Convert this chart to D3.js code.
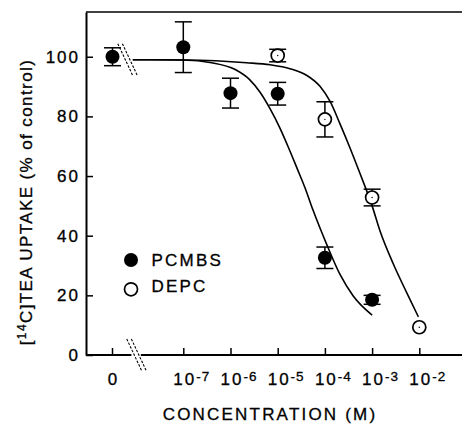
<!DOCTYPE html>
<html>
<head>
<meta charset="utf-8">
<script src="https://cdn.jsdelivr.net/npm/d3@7"></script>
<style>
  body { margin: 0; background: #fff; }
  svg text { font-family: "Liberation Sans", Arial, sans-serif; fill: #000; stroke: #000; stroke-width: 0.3px; }
</style>
</head>
<body>
<div id="graph1"></div>
<script>
// data (concentration in M, uptake in % of control)
let pcmbsConc = [0, 1e-7, 1e-6, 1e-5, 1e-4, 1e-3];
let pcmbsMean = [100, 103.2, 87.8, 87.6, 32.6, 18.5];
let pcmbsErr = [3, 8.5, 5, 3.8, 3.6, 1.5];

let depcConc = [1e-5, 1e-4, 1e-3, 1e-2];
let depcMean = [100.4, 79, 52.8, 9.3];
let depcErr = [2.1, 5.9, 2.8, 0];

// fitted curves: [log10 concentration, % of control]
let pcmbsCurve = [[-8.07, 99], [-7.0, 98.9], [-6.4, 98], [-5.9, 95.7], [-5.6, 92.4],
    [-5.37, 88], [-5.16, 82.5], [-4.95, 76], [-4.77, 69.5], [-4.6, 63], [-4.42, 56],
    [-4.25, 48.5], [-3.96, 37], [-3.68, 27], [-3.4, 19.8], [-3.0, 13.4]];
let depcCurve = [[-8.07, 99], [-7.0, 98.9], [-5.66, 98], [-5.16, 97.3], [-4.74, 96],
    [-4.39, 93.8], [-4.1, 90], [-3.89, 85], [-3.68, 77.5], [-3.47, 69.5], [-3.26, 61],
    [-3.0, 50], [-2.83, 41.5], [-2.55, 30.5], [-2.27, 21], [-2.02, 12.8]];

let xTicks = [1e-7, 1e-6, 1e-5, 1e-4, 1e-3, 1e-2];
let xTickExp = ["-7", "-6", "-5", "-4", "-3", "-2"];
let yTicks = [0, 20, 40, 60, 80, 100];

(function () {
    let width = 462, height = 425;
    let margin = {top: 12, right: 0, bottom: 70, left: 86};
    let innerW = width - margin.left - margin.right,
        innerH = height - margin.top - margin.bottom;

    let svg = d3.select("#graph1")
        .append("svg")
        .attr("width", width)
        .attr("height", height)
        .append("g")
        .attr("transform", `translate(${margin.left}, ${margin.top})`);

    // log x scale, the "0" control sits left of the break
    let x = d3.scaleLog()
        .domain([1e-7, 1e-2])
        .range([97.3, 333.3]);
    let zeroConc = Math.pow(10, -8.5);
    let xPos = c => c === 0 ? x(zeroConc) : x(c);

    let y = d3.scaleLinear()
        .domain([0, 115])
        .range([innerH, 0]);

    let ink = "#000";

    // y axis, ticks pointing inward
    let yAxis = svg.append("g")
        .call(d3.axisLeft(y).tickValues(yTicks).tickSize(-7).tickSizeOuter(0).tickPadding(6));
    yAxis.select(".domain").attr("stroke", ink).attr("stroke-width", 2);
    yAxis.selectAll(".tick line").attr("stroke", ink).attr("stroke-width", 1.5);
    yAxis.selectAll(".tick text")
        .style("font-size", "17px")
        .style("letter-spacing", "2px")
        .attr("fill", ink);

    // top frame line
    svg.append("line")
        .attr("x1", 0).attr("x2", innerW)
        .attr("y1", 0).attr("y2", 0)
        .attr("stroke", ink).attr("stroke-width", 1.5);

    // x axis: ticks only, baseline drawn in two parts around the break
    let xAxis = svg.append("g")
        .attr("transform", `translate(0, ${innerH})`)
        .call(d3.axisBottom(x).tickValues(xTicks).tickSize(-7).tickFormat(""));
    xAxis.select(".domain").remove();
    xAxis.selectAll(".tick line").attr("stroke", ink).attr("stroke-width", 1.5);

    let gapL = x(Math.pow(10, -8.1)), gapR = x(Math.pow(10, -7.9));
    svg.append("path")
        .attr("d", `M0,${innerH}H${gapL}M${gapR},${innerH}H${innerW}`)
        .attr("stroke", ink).attr("stroke-width", 2).attr("fill", "none");

    // "0" tick
    svg.append("line")
        .attr("x1", xPos(0)).attr("x2", xPos(0))
        .attr("y1", innerH).attr("y2", innerH - 7)
        .attr("stroke", ink).attr("stroke-width", 1.5);
    svg.append("text")
        .attr("x", xPos(0))
        .attr("y", innerH + 30)
        .style("text-anchor", "middle")
        .style("font-size", "17px")
        .text("0");

    // 10^n labels
    let labels = svg.append("g").selectAll("text").data(xTicks)
        .enter().append("text")
        .attr("x", d => x(d) - 10)
        .attr("y", innerH + 30)
        .style("text-anchor", "start")
        .style("font-size", "17px")
        .style("letter-spacing", "2px");
    labels.append("tspan").text("10");
    labels.append("tspan")
        .attr("dy", -4)
        .style("font-size", "13.5px")
        .style("letter-spacing", "1px")
        .text((d, i) => xTickExp[i]);

    // break marks
    function breakMark(cx, cy) {
        [-2.3, 2.3].forEach(function (o) {
            svg.append("line")
                .attr("x1", cx + o - 7.5).attr("y1", cy - 16)
                .attr("x2", cx + o + 7.5).attr("y2", cy + 16)
                .attr("stroke", ink).attr("stroke-width", 1.1)
                .attr("stroke-dasharray", "2.5,1.5");
        });
    }
    breakMark(x(Math.pow(10, -7.99)), innerH);
    breakMark(x(Math.pow(10, -8.18)), y(99.5) + 1.5);

    // axis titles
    svg.append("text")
        .attr("x", 184)
        .attr("y", innerH + 65)
        .style("text-anchor", "middle")
        .style("font-size", "17px")
        .style("letter-spacing", "2.2px")
        .text("CONCENTRATION (M)");

    let yTitle = svg.append("text")
        .attr("transform", `translate(${31.5 - margin.left}, ${202 - margin.top}) rotate(-90)`)
        .style("text-anchor", "middle")
        .style("font-size", "17px")
        .style("letter-spacing", "1.4px");
    yTitle.append("tspan").text("[");
    yTitle.append("tspan").attr("dy", -6).style("font-size", "12px").text("14");
    yTitle.append("tspan").attr("dy", 6).text("C]TEA UPTAKE (% of control)");

    // fitted curves
    let line = d3.line()
        .x(d => x(Math.pow(10, d[0])))
        .y(d => y(d[1]))
        .curve(d3.curveMonotoneX);
    [pcmbsCurve, depcCurve].forEach(function (c) {
        svg.append("path")
            .attr("d", line(c))
            .attr("fill", "none")
            .attr("stroke", ink)
            .attr("stroke-width", 1.6);
    });

    // error bars and markers
    let pcmbs = pcmbsConc.map((c, i) => ({c: c, m: pcmbsMean[i], e: pcmbsErr[i]}));
    let depc = depcConc.map((c, i) => ({c: c, m: depcMean[i], e: depcErr[i]}));

    function errorBars(data) {
        let g = svg.append("g").selectAll("g").data(data.filter(d => d.e > 0))
            .enter().append("g")
            .attr("stroke", ink).attr("stroke-width", 1.5);
        g.append("line")
            .attr("x1", d => xPos(d.c)).attr("x2", d => xPos(d.c))
            .attr("y1", d => y(d.m + d.e)).attr("y2", d => y(d.m - d.e));
        g.append("line")
            .attr("x1", d => xPos(d.c) - 8.5).attr("x2", d => xPos(d.c) + 8.5)
            .attr("y1", d => y(d.m + d.e)).attr("y2", d => y(d.m + d.e));
        g.append("line")
            .attr("x1", d => xPos(d.c) - 8.5).attr("x2", d => xPos(d.c) + 8.5)
            .attr("y1", d => y(d.m - d.e)).attr("y2", d => y(d.m - d.e));
    }
    errorBars(pcmbs);
    errorBars(depc);

    svg.append("g").selectAll("circle").data(pcmbs)
        .enter().append("circle")
        .attr("cx", d => xPos(d.c))
        .attr("cy", d => y(d.m))
        .attr("r", 7)
        .attr("fill", ink);

    let open = svg.append("g").selectAll("g").data(depc).enter().append("g");
    open.append("circle")
        .attr("cx", d => xPos(d.c))
        .attr("cy", d => y(d.m))
        .attr("r", 6.5)
        .attr("fill", "#fff")
        .attr("stroke", ink)
        .attr("stroke-width", 1.7);
    open.append("circle")
        .attr("cx", d => xPos(d.c))
        .attr("cy", d => y(d.m))
        .attr("r", 0.7)
        .attr("fill", ink);

    // legend
    let legend = svg.append("g").attr("transform", `translate(${131 - margin.left}, ${260 - margin.top})`);
    legend.append("circle").attr("cx", 0).attr("cy", 0).attr("r", 7).attr("fill", ink);
    legend.append("circle").attr("cx", 0).attr("cy", 29.3).attr("r", 6.5)
        .attr("fill", "#fff").attr("stroke", ink).attr("stroke-width", 1.7);
    legend.selectAll("text").data(["PCMBS", "DEPC"])
        .enter().append("text")
        .attr("x", 20.5)
        .attr("y", (d, i) => 5.5 + i * 26.5)
        .style("font-size", "17px")
        .style("letter-spacing", "2.2px")
        .text(d => d);
})();
</script>
</body>
</html>
